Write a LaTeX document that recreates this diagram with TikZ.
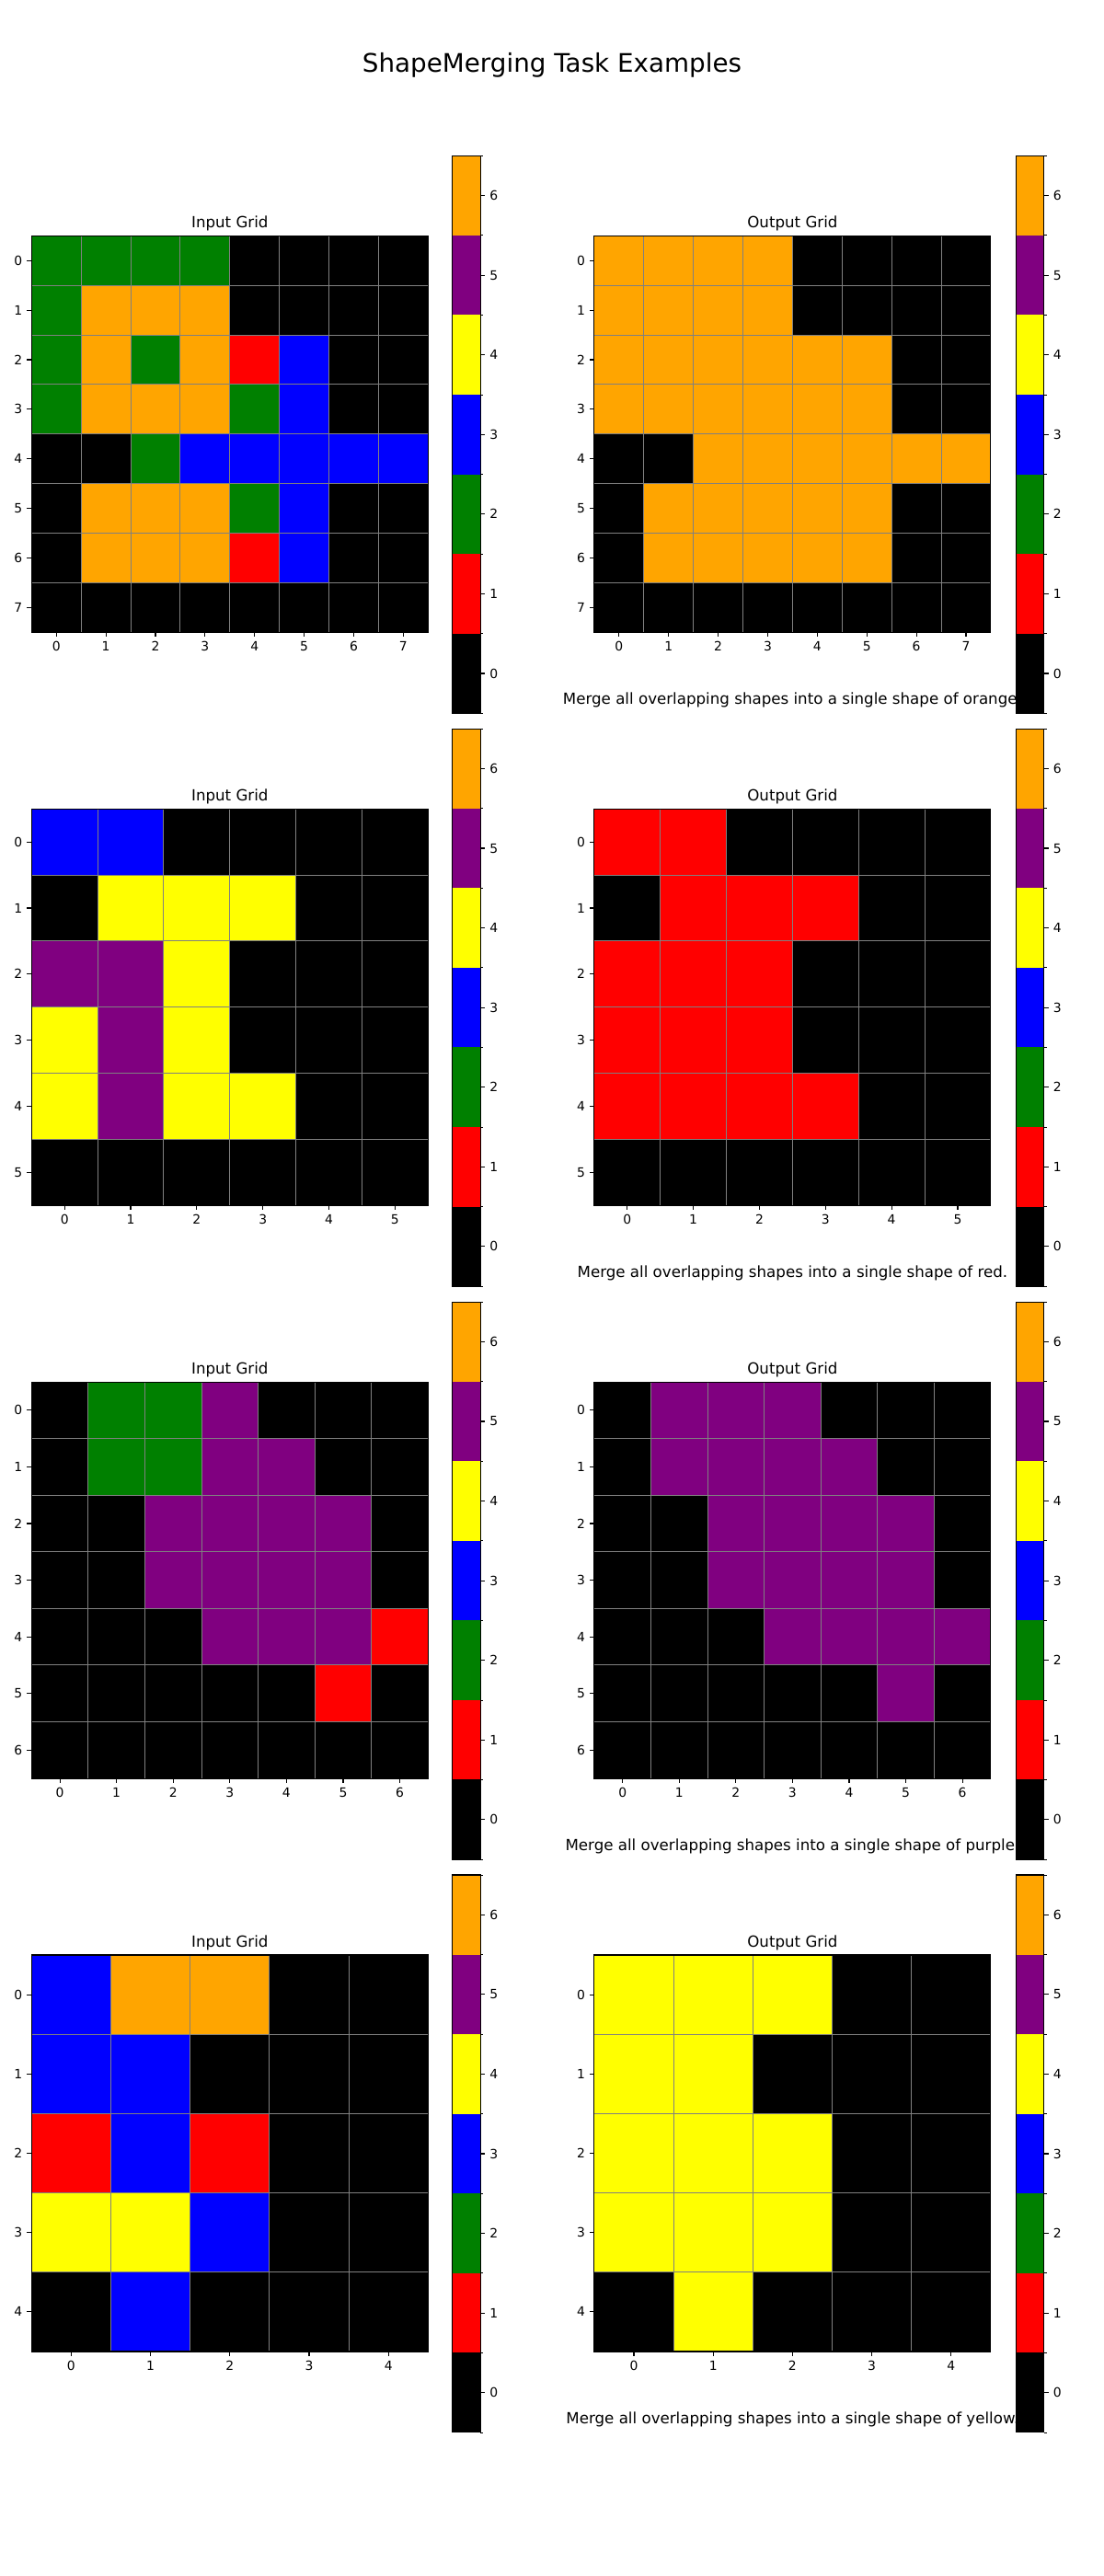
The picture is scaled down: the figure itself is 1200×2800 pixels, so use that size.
\documentclass[tikz,border=0pt]{standalone}
\usepackage{fontspec}
\setmainfont{DejaVu Sans}
\definecolor{c0}{HTML}{000000}
\definecolor{c1}{HTML}{FF0000}
\definecolor{c2}{HTML}{008000}
\definecolor{c3}{HTML}{0000FF}
\definecolor{c4}{HTML}{FFFF00}
\definecolor{c5}{HTML}{800080}
\definecolor{c6}{HTML}{FFA500}
\definecolor{gridgray}{HTML}{808080}
\tikzset{
  gridln/.style={draw=gridgray, line width=0.7pt},
  spine/.style={draw=black, line width=0.8pt},
  tck/.style={draw=black, line width=0.8pt},
  mtck/.style={draw=black, line width=0.6pt},
  ticklab/.style={inner sep=0pt, font=\fontsize{10}{12}\selectfont},
  titlelab/.style={inner sep=0pt, anchor=base, font=\fontsize{12}{14}\selectfont},
}
% #1 left, #2 top, #3 n, #4 title, #5 rows
\newcommand\GridPanel[5]{%
  \pgfmathsetmacro\gcs{431/#3}%
  \pgfmathtruncatemacro\gnm{#3-1}%
  \foreach \rowv [count=\ri from 0] in {#5} {%
    \foreach \cv [count=\ci from 0] in \rowv {%
      \fill[c\cv] ({#1+\ci*\gcs},{#2+\ri*\gcs}) rectangle ++(\gcs,\gcs);
    }
  }
  \foreach \k in {1,...,\gnm} {%
    \draw[gridln] ({#1+\k*\gcs},#2) -- ++(0,431);
    \draw[gridln] (#1,{#2+\k*\gcs}) -- ++(431,0);
  }
  \draw[spine] (#1,#2) rectangle ++(431,431);
  \foreach \k in {0,...,\gnm} {%
    \draw[tck] ({#1+(\k+0.5)*\gcs},{#2+431}) -- ++(0,4.86);
    \node[ticklab, anchor=north] at ({#1+(\k+0.5)*\gcs},{#2+431+9.72}) {\k};
    \draw[tck] (#1,{#2+(\k+0.5)*\gcs}) -- ++(-4.86,0);
    \node[ticklab, anchor=east] at ({#1-9.72},{#2+(\k+0.5)*\gcs}) {\k};
  }
  \node[titlelab] at ({#1+215.5},{#2-8.33}) {#4};
}
% #1 left, #2 top
\newcommand\ColorBar[2]{%
  \foreach \cv in {0,...,6} {%
    \fill[c\cv] (#1,{#2+(6-\cv)*86.56}) rectangle ++(30.7,86.56);
    \draw[tck] ({#1+30.7},{#2+(6.5-\cv)*86.56}) -- ++(4.86,0);
    \node[ticklab, anchor=west] at ({#1+30.7+9.72},{#2+(6.5-\cv)*86.56}) {\cv};
  }
  \foreach \k in {0,...,7} {%
    \draw[mtck] ({#1+30.7},{#2+\k*86.56}) -- ++(2.78,0);
  }
  \draw[spine] (#1,#2) rectangle ++(30.7,605.9);
}
\newcommand\Desc[2]{%
  \node[titlelab] at (861.4,{#1+431+78}) {#2};
}
\begin{document}
\begin{tikzpicture}[x=0.72pt,y=-0.72pt]
\useasboundingbox[fill=white] (0,0) rectangle (1200,2800);
\node[inner sep=0pt, anchor=base, font=\fontsize{20}{24}\selectfont] (suptitle) at (600,78.7) {ShapeMerging Task Examples};

% Row 1
\GridPanel{34.3}{256.3}{8}{Input Grid}{{2,2,2,2,0,0,0,0},{2,6,6,6,0,0,0,0},{2,6,2,6,1,3,0,0},{2,6,6,6,2,3,0,0},{0,0,2,3,3,3,3,3},{0,6,6,6,2,3,0,0},{0,6,6,6,1,3,0,0},{0,0,0,0,0,0,0,0}}
\GridPanel{645.9}{256.3}{8}{Output Grid}{{6,6,6,6,0,0,0,0},{6,6,6,6,0,0,0,0},{6,6,6,6,6,6,0,0},{6,6,6,6,6,6,0,0},{0,0,6,6,6,6,6,6},{0,6,6,6,6,6,0,0},{0,6,6,6,6,6,0,0},{0,0,0,0,0,0,0,0}}
\Desc{256.3}{Merge all overlapping shapes into a single shape of orange.}

% Row 2
\GridPanel{34.3}{879.2}{6}{Input Grid}{{3,3,0,0,0,0},{0,4,4,4,0,0},{5,5,4,0,0,0},{4,5,4,0,0,0},{4,5,4,4,0,0},{0,0,0,0,0,0}}
\GridPanel{645.9}{879.2}{6}{Output Grid}{{1,1,0,0,0,0},{0,1,1,1,0,0},{1,1,1,0,0,0},{1,1,1,0,0,0},{1,1,1,1,0,0},{0,0,0,0,0,0}}
\Desc{879.2}{Merge all overlapping shapes into a single shape of red.}

% Row 3
\GridPanel{34.3}{1502.1}{7}{Input Grid}{{0,2,2,5,0,0,0},{0,2,2,5,5,0,0},{0,0,5,5,5,5,0},{0,0,5,5,5,5,0},{0,0,0,5,5,5,1},{0,0,0,0,0,1,0},{0,0,0,0,0,0,0}}
\GridPanel{645.9}{1502.1}{7}{Output Grid}{{0,5,5,5,0,0,0},{0,5,5,5,5,0,0},{0,0,5,5,5,5,0},{0,0,5,5,5,5,0},{0,0,0,5,5,5,5},{0,0,0,0,0,5,0},{0,0,0,0,0,0,0}}
\Desc{1502.1}{Merge all overlapping shapes into a single shape of purple.}

% Row 4
\GridPanel{34.3}{2125}{5}{Input Grid}{{3,6,6,0,0},{3,3,0,0,0},{1,3,1,0,0},{4,4,3,0,0},{0,3,0,0,0}}
\GridPanel{645.9}{2125}{5}{Output Grid}{{4,4,4,0,0},{4,4,0,0,0},{4,4,4,0,0},{4,4,4,0,0},{0,4,0,0,0}}
\Desc{2125}{Merge all overlapping shapes into a single shape of yellow.}

% Colorbars (drawn last, over the texts)
\foreach \rt in {169.3,792.2,1415.1,2038.0} {
  \ColorBar{491.7}{\rt}
  \ColorBar{1104.2}{\rt}
}
\end{tikzpicture}
\end{document}
